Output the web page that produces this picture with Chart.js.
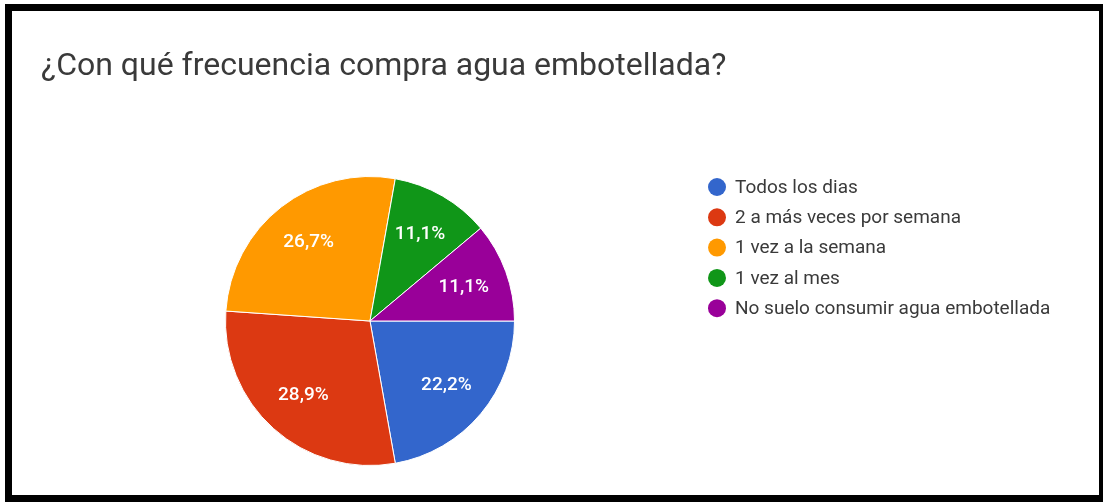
<!DOCTYPE html>
<html>
<head>
<meta charset="utf-8">
<script src="https://cdn.jsdelivr.net/npm/chart.js@4"></script>
<style>
  html, body { margin: 0; padding: 0; background: #fff; }
  body { width: 1103px; height: 502px; position: relative; overflow: hidden; }
  #frame {
    position: absolute; left: 5px; top: 4px;
    width: 1098px; height: 498px; box-sizing: border-box;
    border-style: solid; border-color: #000;
    border-width: 7px 4px 7px 7px;
  }
  #chart { position: absolute; left: 0; top: 0; }
</style>
</head>
<body>
<div id="frame"></div>
<canvas id="chart" width="1103" height="502"></canvas>
<script>
const titleText = '¿Con qué frecuencia compra agua embotellada?';
const categories = [
  'Todos los dias',
  '2 a más veces por semana',
  '1 vez a la semana',
  '1 vez al mes',
  'No suelo consumir agua embotellada'
];
const percents = [22.2, 28.9, 26.7, 11.1, 11.1];
const colors = ['#3366cc', '#dc3912', '#ff9900', '#109618', '#990099'];

// white percentage text inside each slice, plus title and legend
const sliceLabels = {
  id: 'sliceLabels',
  afterDatasetsDraw(chart) {
    const ctx = chart.ctx;
    const meta = chart.getDatasetMeta(0);
    ctx.save();
    ctx.fillStyle = '#fff';
    ctx.font = '500 19px Roboto';
    ctx.textAlign = 'center';
    ctx.textBaseline = 'middle';
    meta.data.forEach((arc, i) => {
      const p = arc.getProps(['x', 'y', 'startAngle', 'endAngle', 'outerRadius']);
      const mid = (p.startAngle + p.endAngle) / 2;
      const r = p.outerRadius * 0.69;
      const label = percents[i].toFixed(1).replace('.', ',') + '%';
      ctx.fillText(label, p.x + Math.cos(mid) * r, p.y + Math.sin(mid) * r);
    });
    ctx.restore();
  },
  afterDraw(chart) {
    const ctx = chart.ctx;
    ctx.save();
    ctx.fillStyle = '#3a3a3a';
    ctx.font = '32px Roboto';
    ctx.textBaseline = 'alphabetic';
    ctx.fillText(titleText, 41, 75);

    ctx.font = '19px Roboto';
    ctx.textBaseline = 'middle';
    categories.forEach((c, i) => {
      const y = 187 + i * 30.3;
      ctx.fillStyle = colors[i];
      ctx.beginPath();
      ctx.arc(717, y, 9, 0, Math.PI * 2);
      ctx.fill();
      ctx.fillStyle = '#3a3a3a';
      ctx.fillText(c, 735, y + 1);
    });
    ctx.restore();
  }
};

new Chart(document.getElementById('chart'), {
  type: 'pie',
  data: {
    labels: categories,
    datasets: [{
      data: percents,
      backgroundColor: colors,
      borderColor: '#fff',
      borderWidth: 1
    }]
  },
  options: {
    responsive: false,
    animation: false,
    rotation: 90,
    layout: { padding: { left: 225, top: 176, right: 588, bottom: 36 } },
    plugins: {
      legend: { display: false },
      title: { display: false },
      tooltip: { enabled: false }
    }
  },
  plugins: [sliceLabels]
});
</script>
</body>
</html>
